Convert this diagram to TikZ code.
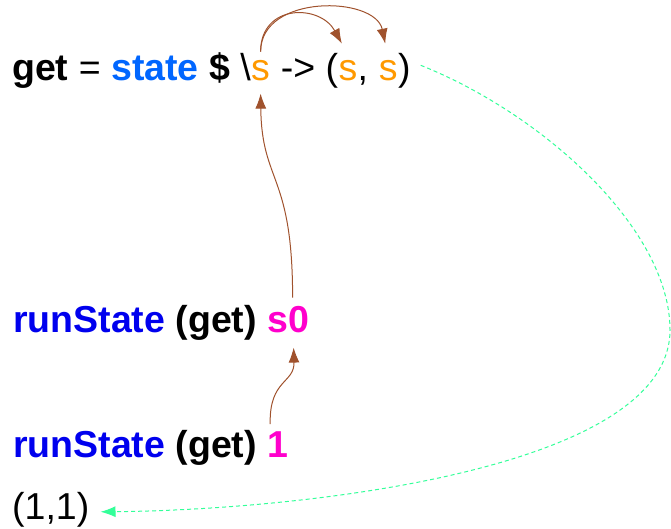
\documentclass[tikz,border=0pt]{standalone}
\usepackage{fontspec}
\setmainfont{Liberation Sans}
\usetikzlibrary{arrows.meta}
\definecolor{stblue}{HTML}{0066FF}
\definecolor{rsblue}{HTML}{0000EE}
\definecolor{mag}{HTML}{FF00CC}
\definecolor{orng}{HTML}{FF9900}
\definecolor{brn}{HTML}{A0522D}
\definecolor{grn}{HTML}{33FF99}
\begin{document}
\begin{tikzpicture}[x=1pt,y=-1pt,
  txt/.style={inner sep=0pt, anchor=base west, font=\fontsize{37.5}{45}\selectfont},
  link/.style={brn, line width=1pt, -{Latex[length=15pt,width=11pt]}},
  ret/.style={grn, line width=1pt, dash pattern=on 4pt off 3pt, -{Latex[length=15pt,width=11pt]}}]
\useasboundingbox (0,0) rectangle (671,529);
% line 1
\node[txt] (get) at (12,81) {\textbf{get} = \textbf{\textcolor{stblue}{state}} \textbf{\$} \textbackslash};
\node[txt, text=orng] (s) at (get.base east) {s};
\node[txt] (arr) at (s.base east) {\ ->\ (};
\node[txt, text=orng] (s1) at (arr.base east) {s};
\node[txt] (comma) at (s1.base east) {,};
\node[txt, text=orng] (s2) at ([xshift=10.4pt]comma.base east) {s};
\node[txt] (close) at (s2.base east) {)};
% line 2
\node[txt] (rs1) at (13,332) {\textbf{\textcolor{rsblue}{runState} (get)}};
\node[txt, text=mag] (s0) at ([xshift=10.4pt]rs1.base east) {\textbf{s0}};
% line 3
\node[txt] (rs2) at (13,457) {\textbf{\textcolor{rsblue}{runState} (get)}};
\node[txt, text=mag] (one) at ([xshift=10.4pt]rs2.base east) {\textbf{1}};
% result
\node[txt] (res) at (12,519) {(1,1)};
% connectors
\draw[link] ([yshift=9pt]s.north) .. controls +(0,-48) and +(-22,-40) .. ([xshift=-6pt,yshift=17pt]s1.north);
\draw[link] ([yshift=9pt]s.north) .. controls +(0,-58) and +(-10,-48) .. ([xshift=-3pt,yshift=17pt]s2.north);
\draw[link] ([xshift=4pt,yshift=8pt]s0.north) .. controls +(0,-125) and +(1,90) .. ([yshift=-12pt]s.south);
\draw[link] ([xshift=-8pt,yshift=7pt]one.north) .. controls +(-1,-45) and +(1,36) .. ([xshift=5pt,yshift=-15pt]s0.south);
\draw[ret] ([xshift=10pt,yshift=6pt]close.east) .. controls (545,115) and (670,230) .. (670,330) .. controls (670,470) and (300,510) .. ([xshift=11pt,yshift=-2.5pt]res.east);
\end{tikzpicture}
\end{document}
